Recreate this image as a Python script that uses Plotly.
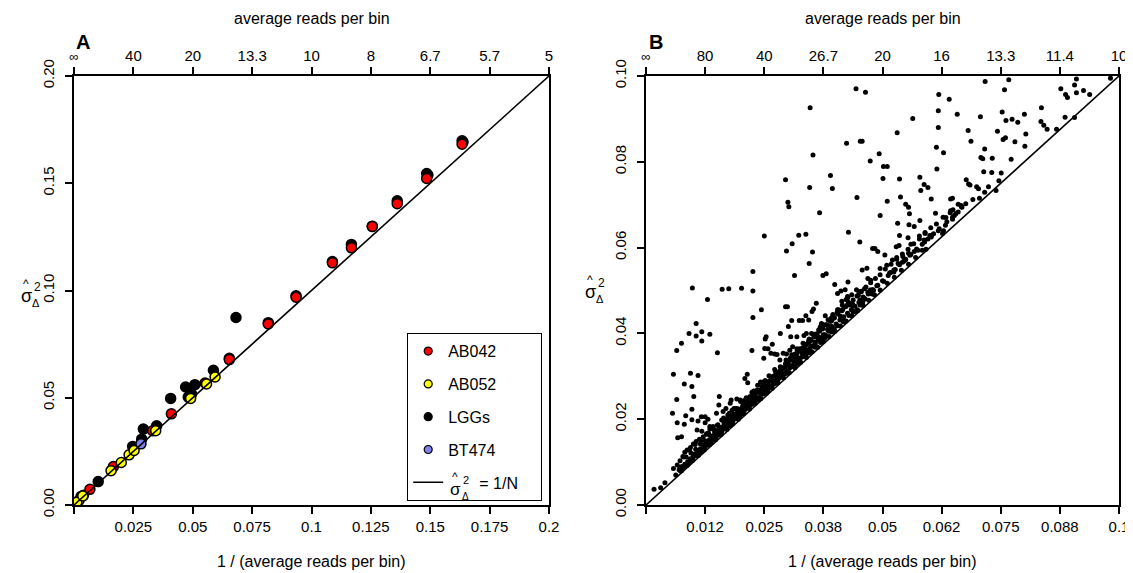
import plotly.graph_objects as go

# ---------------- Panel A data ----------------
lgg_x = [0.0682, 0.0818, 0.0935, 0.1088, 0.1168, 0.1256, 0.1361, 0.1485, 0.1634, 0.0587, 0.0509, 0.0470,
         0.0495, 0.0481, 0.0407, 0.0348, 0.0292, 0.0285, 0.0247, 0.0102, 0.0030, 0.0654, 0.1490, 0.1638]
lgg_y = [0.0874, 0.0850, 0.0975, 0.1135, 0.1215, 0.1300, 0.1418, 0.1545, 0.1698, 0.0628, 0.0561, 0.0550,
         0.0517, 0.0503, 0.0497, 0.0369, 0.0354, 0.0307, 0.0273, 0.0109, 0.0040, 0.0684, 0.1538, 0.1692]

ab042_x = [0.0022, 0.0040, 0.0067, 0.0166, 0.0331, 0.0410, 0.0552, 0.0654, 0.0818, 0.0935, 0.1088, 0.1168,
           0.1256, 0.1361, 0.1485, 0.1634]
ab042_y = [0.0023, 0.0045, 0.0073, 0.0179, 0.0346, 0.0425, 0.0569, 0.0678, 0.0844, 0.0969, 0.1129, 0.1199,
           0.1298, 0.1405, 0.1522, 0.1682]

ab052_x = [0.0012, 0.0037, 0.0156, 0.0199, 0.0232, 0.0253, 0.0344, 0.0491, 0.0558, 0.0594]
ab052_y = [0.0013, 0.0042, 0.0160, 0.0198, 0.0234, 0.0254, 0.0346, 0.0497, 0.0564, 0.0597]

bt474_x = [0.0282]
bt474_y = [0.0285]

a_ticks = [0, 0.025, 0.05, 0.075, 0.1, 0.125, 0.15, 0.175, 0.2]
a_bottom_labels = ["", "0.025", "0.05", "0.075", "0.1", "0.125", "0.15", "0.175", "0.2"]
a_top_labels = ["∞", "40", "20", "13.3", "10", "8", "6.7", "5.7", "5"]
a_yticks = [0, 0.05, 0.10, 0.15, 0.20]

# ---------------- Panel B data ----------------
b_x = [
    0.0017, 0.0031, 0.0040, 0.0058, 0.0063,
    0.0056, 0.0065, 0.0058, 0.0066, 0.0081, 0.0067, 0.0075, 0.0065, 0.0075, 0.0091, 0.0106, 0.0106, 0.0118,
    0.0118, 0.0135, 0.0098, 0.0130, 0.0151, 0.0161, 0.0175, 0.0202, 0.0226, 0.0226, 0.0094, 0.0110, 0.0081,
    0.0097, 0.0101, 0.0155, 0.0097, 0.0084, 0.0097, 0.0110, 0.0117, 0.0125, 0.0125, 0.0131, 0.0108, 0.0118,
    0.0135, 0.0149, 0.0154, 0.0214, 0.0209, 0.0215, 0.0226, 0.0244, 0.0250, 0.0295, 0.0300, 0.0302, 0.0297,
    0.0309, 0.0314, 0.0323, 0.0338, 0.0346, 0.0347, 0.0353, 0.0352, 0.0345, 0.0367, 0.0390, 0.0394, 0.0374,
    0.0381, 0.0424, 0.0428, 0.0444, 0.0464, 0.0446, 0.0453, 0.0457, 0.0474, 0.0493, 0.0502, 0.0510, 0.0501,
    0.0510, 0.0495, 0.0452, 0.0531, 0.0536, 0.0538, 0.0564, 0.0549, 0.0555, 0.0557, 0.0567, 0.0579, 0.0581,
    0.0588, 0.0596, 0.0603, 0.0612, 0.0614, 0.0615, 0.0619, 0.0618, 0.0618, 0.0629, 0.0641, 0.0658, 0.0681,
    0.0687, 0.0707, 0.0716, 0.0717, 0.0708, 0.0712, 0.0732, 0.0714, 0.0731, 0.0751, 0.0743, 0.0753, 0.0755,
    0.0760, 0.0761, 0.0758, 0.0767, 0.0774, 0.0786, 0.0780, 0.0800, 0.0803, 0.0801, 0.0772, 0.0836, 0.0835,
    0.0841, 0.0848, 0.0868, 0.0877, 0.0887, 0.0891, 0.0886, 0.0906, 0.0906, 0.0910, 0.0910, 0.0925, 0.0938,
    0.0982, 0.0677, 0.0682, 0.0685, 0.0699, 0.0703, 0.0705, 0.0716, 0.0724, 0.0740, 0.0746, 0.0691, 0.0666,
    0.0667, 0.0660, 0.0655, 0.0649, 0.0643, 0.0644, 0.0648, 0.0634, 0.0648, 0.0629, 0.0627, 0.0600, 0.0604,
    0.0590, 0.0588, 0.0578, 0.0592, 0.0584, 0.0579, 0.0556, 0.0554, 0.0560, 0.0567, 0.0555, 0.0549, 0.0543,
    0.0535, 0.0529, 0.0536, 0.0532, 0.0521, 0.0530, 0.0542, 0.0533, 0.0517, 0.0524, 0.0509, 0.0495, 0.0505,
    0.0490, 0.0484, 0.0479, 0.0467, 0.0475, 0.0469, 0.0457, 0.0450, 0.0455, 0.0462, 0.0469, 0.0474, 0.0481,
    0.0459, 0.0459, 0.0447, 0.0438, 0.0431, 0.0423, 0.0426, 0.0414, 0.0407, 0.0405, 0.0399, 0.0412, 0.0421,
    0.0427, 0.0427, 0.0395, 0.0393, 0.0388, 0.0392, 0.0379, 0.0371, 0.0369, 0.0354, 0.0360, 0.0351, 0.0338,
    0.0344, 0.0331, 0.0324, 0.0308, 0.0301, 0.0295, 0.0299, 0.0284, 0.0306, 0.0319, 0.0334, 0.0339, 0.0350,
    0.0365, 0.0374, 0.0354, 0.0337, 0.0338, 0.0331, 0.0319, 0.0310, 0.0304, 0.0297, 0.0290, 0.0283, 0.0272,
    0.0277, 0.0264, 0.0267, 0.0254, 0.0252, 0.0258, 0.0251, 0.0249, 0.0224, 0.0242, 0.0235, 0.0228, 0.0220,
    0.0211, 0.0199, 0.0192, 0.0180, 0.0178, 0.0186, 0.0169, 0.0163, 0.0173, 0.0162, 0.0151, 0.0142, 0.0135,
    0.0128, 0.0121, 0.0113, 0.0106, 0.0100, 0.0094, 0.0087, 0.0082, 0.0078, 0.0072, 0.0066, 0.0072, 0.0077,
    # dense band along the diagonal
    0.0070, 0.0073, 0.0076, 0.0079, 0.0082, 0.0085, 0.0088, 0.0091, 0.0094, 0.0097,
    0.0100, 0.0103, 0.0106, 0.0109, 0.0112, 0.0115, 0.0118, 0.0121, 0.0124, 0.0127,
    0.0130, 0.0133, 0.0136, 0.0139, 0.0142, 0.0145, 0.0148, 0.0151, 0.0154, 0.0157,
    0.0160, 0.0163, 0.0166, 0.0169, 0.0172, 0.0175, 0.0178, 0.0181, 0.0184, 0.0187,
    0.0190, 0.0193, 0.0196, 0.0199, 0.0202, 0.0205, 0.0208, 0.0211, 0.0214, 0.0217,
    0.0220, 0.0223, 0.0226, 0.0229, 0.0232, 0.0235, 0.0238, 0.0241, 0.0244, 0.0247,
    0.0250, 0.0253, 0.0256, 0.0259, 0.0262, 0.0265, 0.0268, 0.0271, 0.0274, 0.0277,
    0.0280, 0.0283, 0.0286, 0.0289, 0.0292, 0.0295, 0.0298, 0.0301, 0.0304, 0.0307,
    0.0310, 0.0313, 0.0316, 0.0319, 0.0322, 0.0325, 0.0328, 0.0331, 0.0334, 0.0337,
    0.0340, 0.0343, 0.0346, 0.0349, 0.0352, 0.0355, 0.0358, 0.0361, 0.0364, 0.0367,
    0.0370, 0.0374, 0.0378, 0.0382, 0.0386, 0.0390, 0.0394, 0.0398, 0.0402, 0.0406,
    0.0410, 0.0414, 0.0418, 0.0422, 0.0426, 0.0430, 0.0434, 0.0438, 0.0442, 0.0446,
    0.0450, 0.0455, 0.0460, 0.0465, 0.0470, 0.0475, 0.0480, 0.0485, 0.0490, 0.0495,
    0.0500, 0.0506, 0.0512, 0.0518, 0.0524, 0.0530, 0.0536, 0.0542, 0.0548, 0.0554,
    0.0560, 0.0566, 0.0572, 0.0578, 0.0584, 0.0590, 0.0596, 0.0602, 0.0608, 0.0614,
    0.0620, 0.0628, 0.0636, 0.0644, 0.0652, 0.0660, 0.0668, 0.0676,
    0.0085, 0.0095, 0.0105, 0.0115, 0.0125, 0.0135, 0.0145, 0.0155, 0.0165, 0.0175,
    0.0185, 0.0195, 0.0205, 0.0215, 0.0225, 0.0235, 0.0245, 0.0255, 0.0265, 0.0275,
    0.0285, 0.0295, 0.0305, 0.0315, 0.0325, 0.0335, 0.0345, 0.0355, 0.0365, 0.0375,
    0.0385, 0.0395, 0.0405, 0.0415, 0.0425, 0.0435, 0.0445,
    0.0098, 0.0118, 0.0138, 0.0158, 0.0178, 0.0198, 0.0218, 0.0238, 0.0258, 0.0278,
    0.0298, 0.0318, 0.0338, 0.0358, 0.0378, 0.0398, 0.0418, 0.0438, 0.0458, 0.0478,
    0.0075, 0.0087, 0.0099, 0.0111, 0.0123, 0.0135, 0.0147, 0.0159, 0.0171, 0.0183,
    0.0195, 0.0207, 0.0219, 0.0231, 0.0243, 0.0255, 0.0267, 0.0279, 0.0291, 0.0303,
    0.0315, 0.0327, 0.0339, 0.0351, 0.0363, 0.0375, 0.0387, 0.0399, 0.0411, 0.0423,
    0.0435, 0.0447, 0.0459, 0.0471, 0.0483, 0.0495, 0.0510, 0.0525, 0.0540, 0.0555, 0.0570,
    0.0080, 0.0092, 0.0104, 0.0116, 0.0128, 0.0140, 0.0152, 0.0164, 0.0176, 0.0188,
    0.0200, 0.0212, 0.0224, 0.0236, 0.0248, 0.0260, 0.0272, 0.0284, 0.0296, 0.0308,
    0.0320, 0.0332, 0.0344, 0.0356, 0.0368, 0.0380, 0.0392, 0.0404, 0.0416, 0.0428,
    0.0141, 0.0149, 0.0157, 0.0167, 0.0177, 0.0186, 0.0194, 0.0203, 0.0213, 0.0222,
    0.0231, 0.0240, 0.0249, 0.0258, 0.0267, 0.0276, 0.0285, 0.0294, 0.0303, 0.0312,
    0.0321, 0.0330, 0.0339, 0.0348, 0.0357, 0.0366, 0.0375, 0.0384, 0.0393,
    0.0105, 0.0117, 0.0129, 0.0141, 0.0153, 0.0165, 0.0177, 0.0189, 0.0201, 0.0213,
    0.0225, 0.0237, 0.0249, 0.0261, 0.0273, 0.0285, 0.0297, 0.0309, 0.0321, 0.0333,
    0.0345, 0.0357, 0.0369, 0.0381, 0.0393, 0.0405, 0.0417, 0.0429, 0.0441, 0.0453,
    0.0132, 0.0146, 0.0160, 0.0171, 0.0182, 0.0192, 0.0207, 0.0218, 0.0228, 0.0239,
    0.0252, 0.0263, 0.0274, 0.0288, 0.0299, 0.0311, 0.0324, 0.0336, 0.0347, 0.0361,
    0.0373, 0.0386, 0.0398, 0.0411, 0.0424, 0.0437, 0.0449,
    0.0452, 0.0463, 0.0478, 0.0488, 0.0503, 0.0515, 0.0527, 0.0545, 0.0558, 0.0575,
    0.0589, 0.0603, 0.0618, 0.0633, 0.0648,
]
b_y = [
    0.0037, 0.0040, 0.0052, 0.0085, 0.0070,
    0.0214, 0.0246, 0.0305, 0.0192, 0.0188, 0.0157, 0.0159, 0.0360, 0.0377, 0.0400, 0.0423, 0.0394, 0.0404,
    0.0382, 0.0398, 0.0506, 0.0479, 0.0355, 0.0503, 0.0504, 0.0505, 0.0544, 0.0499, 0.0307, 0.0302, 0.0282,
    0.0276, 0.0253, 0.0253, 0.0223, 0.0208, 0.0199, 0.0196, 0.0206, 0.0206, 0.0192, 0.0200, 0.0175, 0.0172,
    0.0183, 0.0214, 0.0233, 0.0305, 0.0295, 0.0285, 0.0437, 0.0455, 0.0627, 0.0758, 0.0706, 0.0695, 0.0592,
    0.0609, 0.0535, 0.0629, 0.0631, 0.0740, 0.0926, 0.0816, 0.0590, 0.0563, 0.0681, 0.0768, 0.0738, 0.0535,
    0.0539, 0.0843, 0.0636, 0.0970, 0.0962, 0.0717, 0.0848, 0.0848, 0.0802, 0.0819, 0.0789, 0.0789, 0.0761,
    0.0708, 0.0675, 0.0613, 0.0868, 0.0760, 0.0718, 0.0901, 0.0701, 0.0694, 0.0679, 0.0649, 0.0764, 0.0733,
    0.0747, 0.0740, 0.0713, 0.0680, 0.0834, 0.0783, 0.0957, 0.0919, 0.0880, 0.0821, 0.0946, 0.0911, 0.0873,
    0.0848, 0.0905, 0.0830, 0.0987, 0.0810, 0.0807, 0.0808, 0.0777, 0.0775, 0.0774, 0.0871, 0.0916, 0.0852,
    0.0856, 0.0896, 0.0968, 0.0991, 0.0899, 0.0892, 0.0847, 0.0911, 0.0865, 0.0836, 0.0806, 0.0926, 0.0894,
    0.0885, 0.0876, 0.0876, 0.0970, 0.0957, 0.0950, 0.0904, 0.0903, 0.0979, 0.0961, 0.0993, 0.0966, 0.0957,
    0.0995, 0.0758, 0.0748, 0.0746, 0.0742, 0.0737, 0.0715, 0.0729, 0.0742, 0.0733, 0.0756, 0.0712, 0.0698,
    0.0695, 0.0683, 0.0679, 0.0688, 0.0681, 0.0713, 0.0715, 0.0670, 0.0666, 0.0639, 0.0633, 0.0628, 0.0629,
    0.0635, 0.0618, 0.0627, 0.0596, 0.0594, 0.0663, 0.0653, 0.0623, 0.0608, 0.0591, 0.0587, 0.0573, 0.0579,
    0.0605, 0.0602, 0.0628, 0.0657, 0.0571, 0.0577, 0.0566, 0.0563, 0.0542, 0.0543, 0.0559, 0.0551, 0.0583,
    0.0591, 0.0598, 0.0598, 0.0552, 0.0524, 0.0528, 0.0548, 0.0497, 0.0498, 0.0504, 0.0496, 0.0501, 0.0500,
    0.0485, 0.0476, 0.0455, 0.0464, 0.0466, 0.0479, 0.0486, 0.0475, 0.0455, 0.0493, 0.0514, 0.0499, 0.0502,
    0.0520, 0.0484, 0.0444, 0.0430, 0.0416, 0.0409, 0.0441, 0.0423, 0.0416, 0.0457, 0.0470, 0.0451, 0.0441,
    0.0431, 0.0430, 0.0430, 0.0430, 0.0416, 0.0462, 0.0462, 0.0400, 0.0392, 0.0392, 0.0395, 0.0400, 0.0400,
    0.0392, 0.0386, 0.0371, 0.0372, 0.0354, 0.0361, 0.0364, 0.0369, 0.0361, 0.0352, 0.0354, 0.0338, 0.0352,
    0.0351, 0.0354, 0.0375, 0.0392, 0.0387, 0.0364, 0.0365, 0.0342, 0.0360, 0.0287, 0.0268, 0.0256, 0.0253,
    0.0246, 0.0245, 0.0247, 0.0245, 0.0237, 0.0225, 0.0225, 0.0218, 0.0210, 0.0198, 0.0186, 0.0183, 0.0177,
    0.0166, 0.0159, 0.0153, 0.0148, 0.0142, 0.0134, 0.0128, 0.0123, 0.0113, 0.0103, 0.0093, 0.0088, 0.0088,
    # dense band along the diagonal
    0.0082, 0.0079, 0.0090, 0.0088, 0.0095, 0.0093, 0.0101, 0.0098, 0.0108, 0.0104,
    0.0113, 0.0119, 0.0115, 0.0126, 0.0121, 0.0131, 0.0127, 0.0139, 0.0133, 0.0144,
    0.0140, 0.0151, 0.0146, 0.0157, 0.0152, 0.0163, 0.0158, 0.0171, 0.0164, 0.0176,
    0.0171, 0.0183, 0.0178, 0.0195, 0.0184, 0.0192, 0.0190, 0.0205, 0.0196, 0.0210,
    0.0202, 0.0216, 0.0209, 0.0222, 0.0214, 0.0230, 0.0220, 0.0236, 0.0226, 0.0242,
    0.0233, 0.0246, 0.0239, 0.0255, 0.0245, 0.0262, 0.0250, 0.0268, 0.0258, 0.0275,
    0.0263, 0.0280, 0.0270, 0.0288, 0.0276, 0.0295, 0.0281, 0.0301, 0.0290, 0.0307,
    0.0294, 0.0312, 0.0301, 0.0320, 0.0306, 0.0327, 0.0312, 0.0334, 0.0320, 0.0338,
    0.0326, 0.0345, 0.0332, 0.0352, 0.0338, 0.0359, 0.0344, 0.0366, 0.0352, 0.0372,
    0.0357, 0.0378, 0.0364, 0.0385, 0.0370, 0.0392, 0.0376, 0.0399, 0.0384, 0.0405,
    0.0389, 0.0412, 0.0397, 0.0420, 0.0405, 0.0428, 0.0414, 0.0437, 0.0422, 0.0445,
    0.0431, 0.0453, 0.0439, 0.0462, 0.0447, 0.0470, 0.0455, 0.0478, 0.0463, 0.0487,
    0.0472, 0.0497, 0.0482, 0.0508, 0.0492, 0.0518, 0.0502, 0.0528, 0.0512, 0.0537,
    0.0523, 0.0550, 0.0535, 0.0561, 0.0548, 0.0573, 0.0560, 0.0585, 0.0571, 0.0596,
    0.0584, 0.0609, 0.0597, 0.0620, 0.0608, 0.0633, 0.0620, 0.0646, 0.0632, 0.0655,
    0.0644, 0.0671, 0.0660, 0.0686, 0.0675, 0.0701, 0.0694, 0.0702,
    0.0112, 0.0121, 0.0130, 0.0142, 0.0150, 0.0162, 0.0170, 0.0181, 0.0191, 0.0201,
    0.0212, 0.0224, 0.0233, 0.0244, 0.0256, 0.0266, 0.0277, 0.0287, 0.0299, 0.0309,
    0.0320, 0.0330, 0.0342, 0.0352, 0.0364, 0.0375, 0.0387, 0.0397, 0.0408, 0.0420,
    0.0432, 0.0441, 0.0455, 0.0466, 0.0478, 0.0490, 0.0502,
    0.0104, 0.0124, 0.0145, 0.0165, 0.0185, 0.0205, 0.0226, 0.0246, 0.0266, 0.0287,
    0.0307, 0.0328, 0.0348, 0.0368, 0.0389, 0.0410, 0.0430, 0.0450, 0.0471, 0.0492,
    0.0080, 0.0092, 0.0105, 0.0116, 0.0128, 0.0141, 0.0152, 0.0165, 0.0176, 0.0189,
    0.0200, 0.0213, 0.0224, 0.0237, 0.0248, 0.0261, 0.0272, 0.0285, 0.0296, 0.0309,
    0.0320, 0.0333, 0.0344, 0.0357, 0.0368, 0.0381, 0.0393, 0.0405, 0.0417, 0.0429,
    0.0441, 0.0453, 0.0465, 0.0477, 0.0490, 0.0501, 0.0517, 0.0531, 0.0547, 0.0561, 0.0577,
    0.0112, 0.0128, 0.0141, 0.0150, 0.0165, 0.0178, 0.0187, 0.0203, 0.0214, 0.0225,
    0.0241, 0.0250, 0.0263, 0.0279, 0.0287, 0.0301, 0.0316, 0.0322, 0.0338, 0.0350,
    0.0361, 0.0377, 0.0383, 0.0398, 0.0413, 0.0420, 0.0436, 0.0449, 0.0456, 0.0472,
    0.0161, 0.0172, 0.0177, 0.0189, 0.0197, 0.0209, 0.0214, 0.0226, 0.0234, 0.0246,
    0.0252, 0.0263, 0.0271, 0.0281, 0.0289, 0.0299, 0.0306, 0.0318, 0.0325, 0.0336,
    0.0342, 0.0354, 0.0361, 0.0371, 0.0380, 0.0390, 0.0397, 0.0409, 0.0416,
    0.0115, 0.0130, 0.0139, 0.0154, 0.0163, 0.0178, 0.0187, 0.0202, 0.0211, 0.0226,
    0.0235, 0.0250, 0.0259, 0.0274, 0.0283, 0.0298, 0.0307, 0.0322, 0.0331, 0.0346,
    0.0355, 0.0370, 0.0379, 0.0394, 0.0403, 0.0418, 0.0427, 0.0442, 0.0451, 0.0466,
    0.0168, 0.0175, 0.0198, 0.0200, 0.0221, 0.0225, 0.0243, 0.0248, 0.0266, 0.0267,
    0.0290, 0.0291, 0.0312, 0.0316, 0.0337, 0.0339, 0.0361, 0.0363, 0.0382, 0.0392,
    0.0410, 0.0415, 0.0436, 0.0440, 0.0465, 0.0468, 0.0489,
    0.0478, 0.0481, 0.0502, 0.0511, 0.0521, 0.0541, 0.0549, 0.0568, 0.0582, 0.0594,
    0.0613, 0.0625, 0.0639, 0.0652, 0.0671,
]

b_ticks = [0, 0.0125, 0.025, 0.0375, 0.05, 0.0625, 0.075, 0.0875, 0.1]
b_bottom_labels = ["", "0.012", "0.025", "0.038", "0.05", "0.062", "0.075", "0.088", "0.1"]
b_top_labels = ["∞", "80", "40", "26.7", "20", "16", "13.3", "11.4", "10"]
b_yticks = [0, 0.02, 0.04, 0.06, 0.08, 0.10]

FONT = "Liberation Sans, Arial, sans-serif"
INF = "<span style='font-size:13px'>∞</span>"

# The page body has an 8px margin, so the figure is drawn 8px in from the window corner.
OFF = 8
W, H = 1133 - OFF, 573 - OFF
# plotting area in window pixels
L, R, T, B = 74, 1119, 76, 505


def px(x, y):
    return (x - L) / (R - L), (B - y) / (B - T)


fig = go.Figure()


def marker(color, size=10):
    return dict(color=color, size=size, line=dict(color="black", width=1.5))


fig.add_trace(go.Scatter(x=lgg_x, y=lgg_y, mode="markers", marker=marker("black"),
                         showlegend=False, xaxis="x", yaxis="y"))
fig.add_trace(go.Scatter(x=ab042_x, y=ab042_y, mode="markers", marker=marker("#ff0000"),
                         showlegend=False, xaxis="x", yaxis="y"))
fig.add_trace(go.Scatter(x=ab052_x, y=ab052_y, mode="markers", marker=marker("#ffff00"),
                         showlegend=False, xaxis="x", yaxis="y"))
fig.add_trace(go.Scatter(x=bt474_x, y=bt474_y, mode="markers", marker=marker("#8080e8"),
                         showlegend=False, xaxis="x", yaxis="y"))
fig.add_trace(go.Scatter(x=[0, 0.2], y=[0, 0.2], mode="lines", line=dict(color="black", width=1.6),
                         showlegend=False, xaxis="x", yaxis="y"))

for name, col in [("AB042", "#ff0000"), ("AB052", "#ffff00"), ("LGGs", "black"), ("BT474", "#8080e8")]:
    fig.add_trace(go.Scatter(x=[None], y=[None], mode="markers", name=name,
                             marker=dict(color=col, size=8, line=dict(color="black", width=1.2)),
                             legendgroup=name, xaxis="x", yaxis="y"))
fig.add_trace(go.Scatter(x=[None], y=[None], mode="lines",
                         name="\u00a0" * 7 + "= 1/N" + "\u00a0" * 4,
                         line=dict(color="black", width=1.6), legendgroup="line", xaxis="x", yaxis="y"))

fig.add_trace(go.Scatter(x=b_x, y=b_y, mode="markers", marker=dict(color="black", size=5),
                         showlegend=False, xaxis="x2", yaxis="y2"))
fig.add_trace(go.Scatter(x=[0, 0.1], y=[0, 0.1], mode="lines", line=dict(color="black", width=1.6),
                         showlegend=False, xaxis="x2", yaxis="y2"))
fig.add_trace(go.Scatter(x=[None], y=[None], xaxis="x3", yaxis="y", showlegend=False))
fig.add_trace(go.Scatter(x=[None], y=[None], xaxis="x4", yaxis="y2", showlegend=False))

domA = [0, (549 - L) / (R - L)]
domB = [(646 - L) / (R - L), 1]

tickfont = dict(family=FONT, size=15, color="black")
common = dict(showgrid=False, zeroline=False, showline=True, linecolor="black", linewidth=1.5,
              ticks="outside", ticklen=7, tickwidth=1.5, tickcolor="black", tickfont=tickfont,
              automargin=False)

fig.update_layout(
    width=W, height=H,
    margin=dict(l=L - OFF, r=(1133 - R), t=T - OFF, b=(573 - B), autoexpand=False),
    paper_bgcolor="white", plot_bgcolor="white",
    font=dict(family=FONT, size=15, color="black"),
    xaxis=dict(domain=domA, range=[0, 0.2], tickmode="array", tickvals=a_ticks, ticktext=a_bottom_labels,
               mirror=True, anchor="y", **common),
    xaxis3=dict(range=[0, 0.2], overlaying="x", side="top", anchor="y", tickmode="array",
                tickvals=a_ticks, ticktext=[INF] + a_top_labels[1:], **common),
    yaxis=dict(domain=[0, 1], range=[0, 0.2], tickmode="array", tickvals=a_yticks, tickformat=".2f",
               tickangle=-90, mirror=True, anchor="x", ticklabelstandoff=5, **common),
    xaxis2=dict(domain=domB, range=[0, 0.1], tickmode="array", tickvals=b_ticks, ticktext=b_bottom_labels,
                mirror=True, anchor="y2", **common),
    xaxis4=dict(range=[0, 0.1], overlaying="x2", side="top", anchor="y2", tickmode="array",
                tickvals=b_ticks, ticktext=[INF] + b_top_labels[1:], **common),
    yaxis2=dict(domain=[0, 1], range=[0, 0.1], tickmode="array", tickvals=b_yticks, tickformat=".2f",
                tickangle=-90, mirror=True, anchor="x2", ticklabelstandoff=5, **common),
    legend=dict(x=px(407, 0)[0], y=px(0, 333)[1], xanchor="left", yanchor="top",
                bordercolor="black", borderwidth=1.2, bgcolor="white",
                font=dict(family=FONT, size=16), tracegroupgap=9, itemwidth=30),
)

anns = []


def text_at(x, y, t, size, bold=False):
    X, Y = px(x, y)
    anns.append(dict(x=X, y=Y, xref="paper", yref="paper", xanchor="center", yanchor="middle",
                     text=("<b>%s</b>" % t) if bold else t,
                     showarrow=False, font=dict(family=FONT, size=size, color="black")))


text_at(83, 42, "A", 20, bold=True)
text_at(656, 42, "B", 20, bold=True)
for cx in (311.5, 882.5):
    text_at(cx, 19, "average reads per bin", 16)
    text_at(cx, 561, "1 / (average reads per bin)", 16)


def sigma_label(cx, cy, s=18):
    text_at(cx, cy, "σ", s)
    text_at(cx, cy - 12, "^", int(s * 0.72))
    text_at(cx + 11, cy - 9, "2", int(s * 0.67))
    text_at(cx + 10, cy + 7, "Δ", int(s * 0.62))


sigma_label(26, 296)
sigma_label(590, 292)
sigma_label(455, 489, 17)

fig.update_layout(annotations=anns)
fig.write_html("out.html")
